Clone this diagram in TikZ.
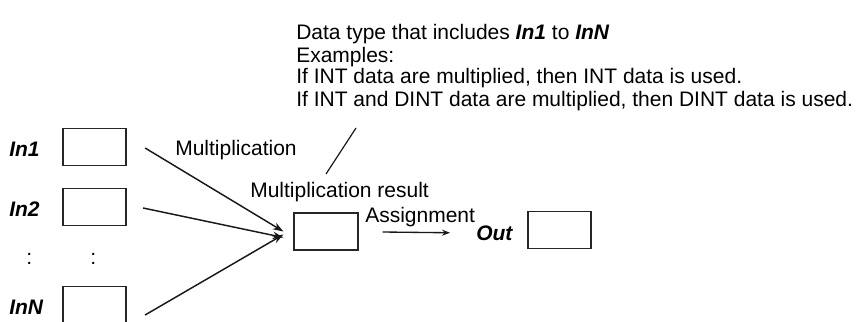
\documentclass[tikz,border=0pt]{standalone}
\usepackage{fontspec}
\setmainfont{Liberation Sans}
\usetikzlibrary{arrows.meta,positioning,calc}
\tikzset{
  slot/.style={rectangle, draw=black!85, line width=1.4pt, minimum width=47.5pt, minimum height=27.8pt, inner sep=0pt},
  txt/.style={inner sep=0pt, anchor=base west},
  feed/.style={-{Stealth[length=8pt, width=5.5pt]}, line width=1.1pt, black!90},
  assign/.style={-{Stealth[length=6pt, width=4.5pt]}, line width=1pt, black!90},
  pointer/.style={line width=0.9pt, black!90},
}
\newcommand{\vname}[1]{\textbf{\textit{#1}}}

\begin{document}
\begin{tikzpicture}[x=0.75pt, y=-0.75pt, font=\fontsize{15.75pt}{16.5pt}\selectfont]
  \useasboundingbox (0,0) rectangle (862,321);
  \node[txt] (note1) at (296,40) {Data type that includes \vname{In1} to \vname{InN}};
  \node[txt] (note2) at (296,62) {Examples:};
  \node[txt] (note3) at (296,84) {If INT data are multiplied, then INT data is used.};
  \node[txt] (note4) at (296,106) {If INT and DINT data are multiplied, then DINT data is used.};
  \node[txt] (in1lbl) at (9,156.5) {\vname{In1}};
  \node[txt] (in2lbl) at (9,216) {\vname{In2}};
  \node[txt] (innlbl) at (9,314) {\vname{InN}};
  \node[slot] (in1) at (94.5,147) {};
  \node[slot] (in2) at (94.5,207) {};
  \node[slot] (inn) at (94.5,305) {};
  \node[txt] (dotl) at (26,264) {:};
  \node[txt] (dotr) at (90,264) {:};
  \node[txt] (mullbl) at (175,155) {Multiplication};
  \node[txt] (reslbl) at (250,197) {Multiplication result};
  \node[slot] (res) at (326,231.5) {};
  \node[txt] (asglbl) at (365,222) {Assignment};
  \node[txt] (outlbl) at (476,240) {\vname{Out}};
  \node[slot] (out) at (559.5,230) {};
  \coordinate (ptrtop) at (356,128);
  \coordinate (ptrbot) at (326,174);
  \draw[pointer] (ptrtop) -- (ptrbot);
  \draw[feed] ($(in1.east)+(18,1)$) -- ($(res.west)+(-10,0)$);
  \draw[feed] ($(in2.east)+(16,1)$) -- ($(res.west)+(-10,6)$);
  \draw[feed] ($(inn.east)+(18,10)$) -- ($(res.west)+(-10,3)$);
  \draw[assign] ($(res.east)+(24,0.5)$) -- ($(outlbl.west)+(-26,0)$);
\end{tikzpicture}
\end{document}
